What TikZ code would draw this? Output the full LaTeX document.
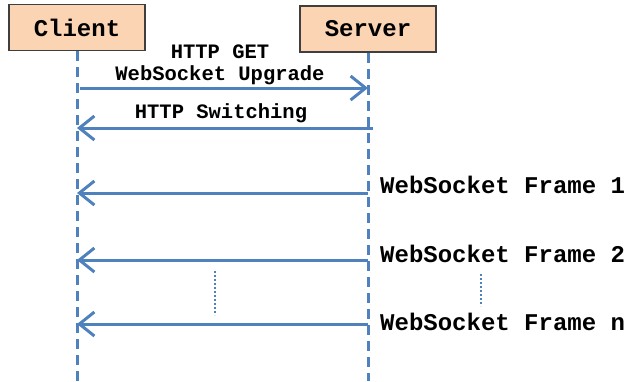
\documentclass[tikz,border=0pt]{standalone}
\usepackage{fontspec}
\newfontfamily\cour{Liberation Mono}
\usetikzlibrary{arrows.meta}
\definecolor{lineblue}{HTML}{4F81BD}
\definecolor{peach}{HTML}{FBD4B4}
\definecolor{boxedge}{HTML}{3F3F3F}
\begin{document}
\begin{tikzpicture}[x=1pt,y=-1pt,
  actor/.style={draw=boxedge,line width=1.8pt,fill=peach,minimum width=136pt,minimum height=46pt,inner sep=0pt,font=\cour\bfseries\fontsize{24}{24}\selectfont},
  lifeline/.style={draw=lineblue,line width=3pt,dash pattern=on 10pt off 6pt},
  msg/.style={draw=lineblue,line width=3pt,-{Straight Barb[length=15pt,width=24pt,line width=3pt]}},
  msglabel/.style={inner sep=0pt,anchor=base,font=\cour\bfseries\fontsize{20.5}{20.5}\selectfont},
  framelabel/.style={inner sep=0pt,anchor=base west,font=\cour\bfseries\fontsize{24}{24}\selectfont},
  dots/.style={draw=lineblue,line width=2pt,dash pattern=on 2pt off 2pt}]
\useasboundingbox (0,0) rectangle (629,381);
\node[actor] (client) at (77,27.5) {Client};
\node[actor] (server) at (368,29) {Server};
\coordinate (cb) at (client.south |- 0,381);
\coordinate (sb) at (server.south |- 0,381);
\draw[lifeline] (client.south) -- (cb);
\draw[lifeline] (server.south) -- (sb);
% message rows
\coordinate (c1) at (80,88);  \coordinate (s1) at (368,88);
\coordinate (c2) at (77,128); \coordinate (s2) at (373,128);
\coordinate (c3) at (77,193); \coordinate (s3) at (368,193);
\coordinate (c4) at (77,260); \coordinate (s4) at (368,260);
\coordinate (c5) at (77,324); \coordinate (s5) at (368,324);
\draw[msg] (c1) -- (s1);
\draw[msg] (s2) -- (c2);
\draw[msg] (s3) -- (c3);
\draw[msg] (s4) -- (c4);
\draw[msg] (s5) -- (c5);
\node[msglabel] (l1a) at (220,58) {HTTP GET};
\node[msglabel] (l1b) at (220,80) {WebSocket Upgrade};
\node[msglabel] (l2) at (221,118) {HTTP Switching};
\node[framelabel] (f1) at (380,193) {WebSocket Frame 1};
\node[framelabel] (f2) at (380,262) {WebSocket Frame 2};
\node[framelabel] (fn) at (380,330) {WebSocket Frame n};
\coordinate (d1a) at (215,271); \coordinate (d1b) at (215,315);
\coordinate (d2a) at (481,274); \coordinate (d2b) at (481,306);
\draw[dots] (d1a) -- (d1b);
\draw[dots] (d2a) -- (d2b);
\end{tikzpicture}
\end{document}
